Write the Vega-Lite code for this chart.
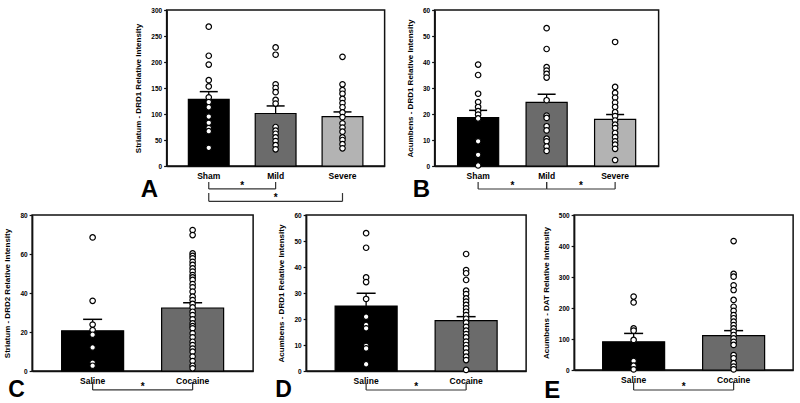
{
  "$schema": "https://vega.github.io/schema/vega-lite/v6.json",
  "background": "white",
  "padding": {"left": 3, "top": 6, "right": 3, "bottom": 0},
  "datasets": {
    "bars": [
      {"p": "A", "g": "Sham", "m": 128, "u": 143},
      {"p": "A", "g": "Mild", "m": 101, "u": 115.5},
      {"p": "A", "g": "Severe", "m": 95, "u": 104},
      {"p": "B", "g": "Sham", "m": 18.6, "u": 21.4},
      {"p": "B", "g": "Mild", "m": 24.5, "u": 27.6},
      {"p": "B", "g": "Severe", "m": 17.9, "u": 19.8},
      {"p": "C", "g": "Saline", "m": 20.6, "u": 26.5},
      {"p": "C", "g": "Cocaine", "m": 32.3, "u": 35},
      {"p": "D", "g": "Saline", "m": 25, "u": 29.9},
      {"p": "D", "g": "Cocaine", "m": 19.4, "u": 20.9},
      {"p": "E", "g": "Saline", "m": 91, "u": 118},
      {"p": "E", "g": "Cocaine", "m": 111, "u": 127}
    ],
    "brk": [
      {"p": "A", "g1": "Sham", "g2": "Mild", "yl": -44, "yt": -31},
      {"p": "A", "g1": "Sham", "g2": "Severe", "mid": "Mild", "yl": -68, "yt": -52},
      {"p": "B", "g1": "Sham", "g2": "Mild", "yl": -8.85, "yt": -6.15},
      {"p": "B", "g1": "Mild", "g2": "Severe", "yl": -8.85, "yt": -6.15},
      {"p": "C", "g1": "Saline", "g2": "Cocaine", "yl": -9.7, "yt": -5.6},
      {"p": "D", "g1": "Saline", "g2": "Cocaine", "yl": -7.3, "yt": -4.6},
      {"p": "E", "g1": "Saline", "g2": "Cocaine", "yl": -64.5, "yt": -39}
    ],
    "pts": [
      {"p": "A", "g": "Sham", "v": 268}, {"p": "A", "g": "Sham", "v": 212}, {"p": "A", "g": "Sham", "v": 195}, {"p": "A", "g": "Sham", "v": 165}, {"p": "A", "g": "Sham", "v": 153}, {"p": "A", "g": "Sham", "v": 132}, {"p": "A", "g": "Sham", "v": 123}, {"p": "A", "g": "Sham", "v": 113}, {"p": "A", "g": "Sham", "v": 95}, {"p": "A", "g": "Sham", "v": 83}, {"p": "A", "g": "Sham", "v": 73}, {"p": "A", "g": "Sham", "v": 67}, {"p": "A", "g": "Sham", "v": 35},
      {"p": "A", "g": "Mild", "v": 228}, {"p": "A", "g": "Mild", "v": 214}, {"p": "A", "g": "Mild", "v": 157}, {"p": "A", "g": "Mild", "v": 150}, {"p": "A", "g": "Mild", "v": 142}, {"p": "A", "g": "Mild", "v": 127}, {"p": "A", "g": "Mild", "v": 120}, {"p": "A", "g": "Mild", "v": 75}, {"p": "A", "g": "Mild", "v": 68}, {"p": "A", "g": "Mild", "v": 62}, {"p": "A", "g": "Mild", "v": 55}, {"p": "A", "g": "Mild", "v": 48}, {"p": "A", "g": "Mild", "v": 40}, {"p": "A", "g": "Mild", "v": 32},
      {"p": "A", "g": "Severe", "v": 210}, {"p": "A", "g": "Severe", "v": 157}, {"p": "A", "g": "Severe", "v": 146}, {"p": "A", "g": "Severe", "v": 139}, {"p": "A", "g": "Severe", "v": 129}, {"p": "A", "g": "Severe", "v": 121}, {"p": "A", "g": "Severe", "v": 113}, {"p": "A", "g": "Severe", "v": 103}, {"p": "A", "g": "Severe", "v": 94}, {"p": "A", "g": "Severe", "v": 82}, {"p": "A", "g": "Severe", "v": 74}, {"p": "A", "g": "Severe", "v": 66}, {"p": "A", "g": "Severe", "v": 55}, {"p": "A", "g": "Severe", "v": 50}, {"p": "A", "g": "Severe", "v": 42}, {"p": "A", "g": "Severe", "v": 34},
      {"p": "B", "g": "Sham", "v": 39}, {"p": "B", "g": "Sham", "v": 35}, {"p": "B", "g": "Sham", "v": 27.8}, {"p": "B", "g": "Sham", "v": 24.6}, {"p": "B", "g": "Sham", "v": 22.7}, {"p": "B", "g": "Sham", "v": 21.1}, {"p": "B", "g": "Sham", "v": 19.8}, {"p": "B", "g": "Sham", "v": 18.3}, {"p": "B", "g": "Sham", "v": 9.5}, {"p": "B", "g": "Sham", "v": 4.3}, {"p": "B", "g": "Sham", "v": 0.2},
      {"p": "B", "g": "Mild", "v": 53}, {"p": "B", "g": "Mild", "v": 45}, {"p": "B", "g": "Mild", "v": 38}, {"p": "B", "g": "Mild", "v": 36.7}, {"p": "B", "g": "Mild", "v": 35.4}, {"p": "B", "g": "Mild", "v": 34}, {"p": "B", "g": "Mild", "v": 25.3}, {"p": "B", "g": "Mild", "v": 19.4}, {"p": "B", "g": "Mild", "v": 18.5}, {"p": "B", "g": "Mild", "v": 15.3}, {"p": "B", "g": "Mild", "v": 13.7}, {"p": "B", "g": "Mild", "v": 10.5}, {"p": "B", "g": "Mild", "v": 9.5}, {"p": "B", "g": "Mild", "v": 7.5}, {"p": "B", "g": "Mild", "v": 5.8},
      {"p": "B", "g": "Severe", "v": 47.7}, {"p": "B", "g": "Severe", "v": 30.4}, {"p": "B", "g": "Severe", "v": 28.1}, {"p": "B", "g": "Severe", "v": 26.3}, {"p": "B", "g": "Severe", "v": 24.4}, {"p": "B", "g": "Severe", "v": 22.7}, {"p": "B", "g": "Severe", "v": 20.7}, {"p": "B", "g": "Severe", "v": 19.2}, {"p": "B", "g": "Severe", "v": 17.5}, {"p": "B", "g": "Severe", "v": 15.9}, {"p": "B", "g": "Severe", "v": 14.6}, {"p": "B", "g": "Severe", "v": 12.7}, {"p": "B", "g": "Severe", "v": 11.1}, {"p": "B", "g": "Severe", "v": 9.5}, {"p": "B", "g": "Severe", "v": 8.2}, {"p": "B", "g": "Severe", "v": 6.6}, {"p": "B", "g": "Severe", "v": 2.3},
      {"p": "C", "g": "Saline", "v": 68.5}, {"p": "C", "g": "Saline", "v": 36}, {"p": "C", "g": "Saline", "v": 23.8}, {"p": "C", "g": "Saline", "v": 21}, {"p": "C", "g": "Saline", "v": 18.6}, {"p": "C", "g": "Saline", "v": 12.1}, {"p": "C", "g": "Saline", "v": 4.3}, {"p": "C", "g": "Saline", "v": 2.7},
      {"p": "C", "g": "Cocaine", "v": 72.3}, {"p": "C", "g": "Cocaine", "v": 69.7}, {"p": "C", "g": "Cocaine", "v": 60.3}, {"p": "C", "g": "Cocaine", "v": 59}, {"p": "C", "g": "Cocaine", "v": 57.8}, {"p": "C", "g": "Cocaine", "v": 56}, {"p": "C", "g": "Cocaine", "v": 54.4}, {"p": "C", "g": "Cocaine", "v": 52.6}, {"p": "C", "g": "Cocaine", "v": 51}, {"p": "C", "g": "Cocaine", "v": 49.2}, {"p": "C", "g": "Cocaine", "v": 48}, {"p": "C", "g": "Cocaine", "v": 46.7}, {"p": "C", "g": "Cocaine", "v": 44.6}, {"p": "C", "g": "Cocaine", "v": 42.9}, {"p": "C", "g": "Cocaine", "v": 40.7}, {"p": "C", "g": "Cocaine", "v": 38.1}, {"p": "C", "g": "Cocaine", "v": 36.4}, {"p": "C", "g": "Cocaine", "v": 34.4}, {"p": "C", "g": "Cocaine", "v": 32.6}, {"p": "C", "g": "Cocaine", "v": 30.4}, {"p": "C", "g": "Cocaine", "v": 28.7}, {"p": "C", "g": "Cocaine", "v": 26.5}, {"p": "C", "g": "Cocaine", "v": 24.4}, {"p": "C", "g": "Cocaine", "v": 23}, {"p": "C", "g": "Cocaine", "v": 21.9}, {"p": "C", "g": "Cocaine", "v": 19.3}, {"p": "C", "g": "Cocaine", "v": 17.3}, {"p": "C", "g": "Cocaine", "v": 15}, {"p": "C", "g": "Cocaine", "v": 13.3}, {"p": "C", "g": "Cocaine", "v": 11.5}, {"p": "C", "g": "Cocaine", "v": 9.9}, {"p": "C", "g": "Cocaine", "v": 7.4}, {"p": "C", "g": "Cocaine", "v": 5.1}, {"p": "C", "g": "Cocaine", "v": 2.7}, {"p": "C", "g": "Cocaine", "v": 1.4},
      {"p": "D", "g": "Saline", "v": 53}, {"p": "D", "g": "Saline", "v": 47.4}, {"p": "D", "g": "Saline", "v": 36}, {"p": "D", "g": "Saline", "v": 34.2}, {"p": "D", "g": "Saline", "v": 27.7}, {"p": "D", "g": "Saline", "v": 20.9}, {"p": "D", "g": "Saline", "v": 17.7}, {"p": "D", "g": "Saline", "v": 16.4}, {"p": "D", "g": "Saline", "v": 9.7}, {"p": "D", "g": "Saline", "v": 8.7}, {"p": "D", "g": "Saline", "v": 2.6},
      {"p": "D", "g": "Cocaine", "v": 45}, {"p": "D", "g": "Cocaine", "v": 38.8}, {"p": "D", "g": "Cocaine", "v": 37.6}, {"p": "D", "g": "Cocaine", "v": 35}, {"p": "D", "g": "Cocaine", "v": 30.9}, {"p": "D", "g": "Cocaine", "v": 29.6}, {"p": "D", "g": "Cocaine", "v": 27.9}, {"p": "D", "g": "Cocaine", "v": 26.7}, {"p": "D", "g": "Cocaine", "v": 25.4}, {"p": "D", "g": "Cocaine", "v": 24.1}, {"p": "D", "g": "Cocaine", "v": 22.8}, {"p": "D", "g": "Cocaine", "v": 21.5}, {"p": "D", "g": "Cocaine", "v": 20.1}, {"p": "D", "g": "Cocaine", "v": 18.6}, {"p": "D", "g": "Cocaine", "v": 17}, {"p": "D", "g": "Cocaine", "v": 15.5}, {"p": "D", "g": "Cocaine", "v": 14.2}, {"p": "D", "g": "Cocaine", "v": 12.9}, {"p": "D", "g": "Cocaine", "v": 11.3}, {"p": "D", "g": "Cocaine", "v": 10}, {"p": "D", "g": "Cocaine", "v": 8.7}, {"p": "D", "g": "Cocaine", "v": 7.1}, {"p": "D", "g": "Cocaine", "v": 5.5}, {"p": "D", "g": "Cocaine", "v": 4.2}, {"p": "D", "g": "Cocaine", "v": 0.4},
      {"p": "E", "g": "Saline", "v": 237}, {"p": "E", "g": "Saline", "v": 218}, {"p": "E", "g": "Saline", "v": 134}, {"p": "E", "g": "Saline", "v": 127}, {"p": "E", "g": "Saline", "v": 97}, {"p": "E", "g": "Saline", "v": 29}, {"p": "E", "g": "Saline", "v": 14}, {"p": "E", "g": "Saline", "v": 2},
      {"p": "E", "g": "Cocaine", "v": 416}, {"p": "E", "g": "Cocaine", "v": 310}, {"p": "E", "g": "Cocaine", "v": 301}, {"p": "E", "g": "Cocaine", "v": 273}, {"p": "E", "g": "Cocaine", "v": 258}, {"p": "E", "g": "Cocaine", "v": 226}, {"p": "E", "g": "Cocaine", "v": 204}, {"p": "E", "g": "Cocaine", "v": 191}, {"p": "E", "g": "Cocaine", "v": 177}, {"p": "E", "g": "Cocaine", "v": 167}, {"p": "E", "g": "Cocaine", "v": 156}, {"p": "E", "g": "Cocaine", "v": 145}, {"p": "E", "g": "Cocaine", "v": 134}, {"p": "E", "g": "Cocaine", "v": 124}, {"p": "E", "g": "Cocaine", "v": 113}, {"p": "E", "g": "Cocaine", "v": 102}, {"p": "E", "g": "Cocaine", "v": 91}, {"p": "E", "g": "Cocaine", "v": 81}, {"p": "E", "g": "Cocaine", "v": 48}, {"p": "E", "g": "Cocaine", "v": 38}, {"p": "E", "g": "Cocaine", "v": 22}, {"p": "E", "g": "Cocaine", "v": 11}, {"p": "E", "g": "Cocaine", "v": 2}
    ]
  },
  "vconcat": [
    {
      "hconcat": [
        {
          "width": 218, "height": 156,
          "title": {"text": "A", "dx": -26, "dy": -27},
          "layer": [
            {"data": {"name": "bars"}, "transform": [{"filter": "datum.p === 'A'"}],
             "mark": {"type": "bar", "width": {"band": 0.61}, "stroke": "#000", "strokeWidth": 1.2},
             "encoding": {
               "x": {"field": "g", "type": "nominal", "sort": null, "scale": {"domain": ["Sham", "Mild", "Severe"], "paddingInner": 0, "paddingOuter": 0.13}, "axis": {"title": null}},
               "y": {"field": "m", "type": "quantitative", "scale": {"domain": [0, 300], "nice": false}, "axis": {"values": [0, 50, 100, 150, 200, 250, 300], "tickCount": 7, "labelOverlap": false, "title": "Striatum - DRD1 Relative Intensity"}},
               "color": {"field": "g", "type": "nominal", "scale": {"domain": ["Sham", "Mild", "Severe", "Saline", "Cocaine"], "range": ["#000000", "#6b6b6b", "#b3b3b3", "#000000", "#6b6b6b"]}, "legend": null}
             }},
            {"data": {"name": "bars"}, "transform": [{"filter": "datum.p === 'A'"}],
             "mark": {"type": "rule", "color": "#000", "strokeWidth": 1.3},
             "encoding": {"x": {"field": "g", "type": "nominal", "axis": {"title": null}}, "y": {"field": "m", "type": "quantitative", "scale": {"domain": [0, 300], "nice": false}, "axis": {"values": [0, 50, 100, 150, 200, 250, 300], "tickCount": 7, "labelOverlap": false, "title": "Striatum - DRD1 Relative Intensity"}}, "y2": {"field": "u"}}},
            {"data": {"name": "bars"}, "transform": [{"filter": "datum.p === 'A'"}],
             "mark": {"type": "tick", "size": 18, "thickness": 1.5, "color": "#000", "opacity": 1},
             "encoding": {"x": {"field": "g", "type": "nominal", "axis": {"title": null}}, "y": {"field": "u", "type": "quantitative", "scale": {"domain": [0, 300], "nice": false}, "axis": {"values": [0, 50, 100, 150, 200, 250, 300], "tickCount": 7, "labelOverlap": false, "title": "Striatum - DRD1 Relative Intensity"}}}},
            {"data": {"name": "pts"}, "transform": [{"filter": "datum.p === 'A'"}],
             "mark": {"type": "circle", "size": 30, "fill": "#ffffff", "stroke": "#000", "strokeWidth": 1.2, "opacity": 1},
             "encoding": {"x": {"field": "g", "type": "nominal", "axis": {"title": null}}, "y": {"field": "v", "type": "quantitative", "scale": {"domain": [0, 300], "nice": false}, "axis": {"values": [0, 50, 100, 150, 200, 250, 300], "tickCount": 7, "labelOverlap": false, "title": "Striatum - DRD1 Relative Intensity"}}}},
            {"data": {"name": "brk"}, "transform": [{"filter": "datum.p === 'A'"}],
             "mark": {"type": "rule", "color": "#333", "strokeWidth": 1.2},
             "encoding": {"x": {"field": "g1", "type": "nominal", "bandPosition": 0.5, "axis": {"title": null}}, "x2": {"field": "g2"}, "y": {"field": "yl", "type": "quantitative", "scale": {"domain": [0, 300], "nice": false}, "axis": {"values": [0, 50, 100, 150, 200, 250, 300], "tickCount": 7, "labelOverlap": false, "title": "Striatum - DRD1 Relative Intensity"}}}},
            {"data": {"name": "brk"}, "transform": [{"filter": "datum.p === 'A'"}],
             "mark": {"type": "rule", "color": "#333", "strokeWidth": 1.2},
             "encoding": {"x": {"field": "g1", "type": "nominal", "axis": {"title": null}}, "y": {"field": "yl", "type": "quantitative", "scale": {"domain": [0, 300], "nice": false}, "axis": {"values": [0, 50, 100, 150, 200, 250, 300], "tickCount": 7, "labelOverlap": false, "title": "Striatum - DRD1 Relative Intensity"}}, "y2": {"field": "yt"}}},
            {"data": {"name": "brk"}, "transform": [{"filter": "datum.p === 'A'"}],
             "mark": {"type": "rule", "color": "#333", "strokeWidth": 1.2},
             "encoding": {"x": {"field": "g2", "type": "nominal", "axis": {"title": null}}, "y": {"field": "yl", "type": "quantitative", "scale": {"domain": [0, 300], "nice": false}, "axis": {"values": [0, 50, 100, 150, 200, 250, 300], "tickCount": 7, "labelOverlap": false, "title": "Striatum - DRD1 Relative Intensity"}}, "y2": {"field": "yt"}}},
            {"data": {"name": "brk"}, "transform": [{"filter": "datum.p === 'A' && !datum.mid"}],
             "mark": {"type": "text", "text": "*", "fontSize": 10, "fontWeight": "bold", "baseline": "alphabetic", "color": "#000"},
             "encoding": {"x": {"field": "g2", "type": "nominal", "bandPosition": 0, "axis": {"title": null}}, "y": {"field": "yl", "type": "quantitative", "scale": {"domain": [0, 300], "nice": false}, "axis": {"values": [0, 50, 100, 150, 200, 250, 300], "tickCount": 7, "labelOverlap": false, "title": "Striatum - DRD1 Relative Intensity"}}}},
            {"data": {"name": "brk"}, "transform": [{"filter": "datum.p === 'A' && datum.mid"}],
             "mark": {"type": "text", "text": "*", "fontSize": 10, "fontWeight": "bold", "baseline": "alphabetic", "color": "#000"},
             "encoding": {"x": {"field": "mid", "type": "nominal", "bandPosition": 0.5, "axis": {"title": null}}, "y": {"field": "yl", "type": "quantitative", "scale": {"domain": [0, 300], "nice": false}, "axis": {"values": [0, 50, 100, 150, 200, 250, 300], "tickCount": 7, "labelOverlap": false, "title": "Striatum - DRD1 Relative Intensity"}}}}
          ]
        },
        {
          "width": 224, "height": 156,
          "title": {"text": "B", "dx": -22, "dy": -15},
          "layer": [
            {"data": {"name": "bars"}, "transform": [{"filter": "datum.p === 'B'"}],
             "mark": {"type": "bar", "width": {"band": 0.6}, "stroke": "#000", "strokeWidth": 1.2},
             "encoding": {
               "x": {"field": "g", "type": "nominal", "sort": null, "scale": {"domain": ["Sham", "Mild", "Severe"], "paddingInner": 0, "paddingOuter": 0.135}, "axis": {"title": null}},
               "y": {"field": "m", "type": "quantitative", "scale": {"domain": [0, 60], "nice": false}, "axis": {"values": [0, 10, 20, 30, 40, 50, 60], "tickCount": 7, "labelOverlap": false, "title": "Acumbens - DRD1 Relative Intensity"}},
               "color": {"field": "g", "type": "nominal", "scale": {"domain": ["Sham", "Mild", "Severe", "Saline", "Cocaine"], "range": ["#000000", "#6b6b6b", "#b3b3b3", "#000000", "#6b6b6b"]}, "legend": null}
             }},
            {"data": {"name": "bars"}, "transform": [{"filter": "datum.p === 'B'"}],
             "mark": {"type": "rule", "color": "#000", "strokeWidth": 1.3},
             "encoding": {"x": {"field": "g", "type": "nominal", "axis": {"title": null}}, "y": {"field": "m", "type": "quantitative", "scale": {"domain": [0, 60], "nice": false}, "axis": {"values": [0, 10, 20, 30, 40, 50, 60], "tickCount": 7, "labelOverlap": false, "title": "Acumbens - DRD1 Relative Intensity"}}, "y2": {"field": "u"}}},
            {"data": {"name": "bars"}, "transform": [{"filter": "datum.p === 'B'"}],
             "mark": {"type": "tick", "size": 18, "thickness": 1.5, "color": "#000", "opacity": 1},
             "encoding": {"x": {"field": "g", "type": "nominal", "axis": {"title": null}}, "y": {"field": "u", "type": "quantitative", "scale": {"domain": [0, 60], "nice": false}, "axis": {"values": [0, 10, 20, 30, 40, 50, 60], "tickCount": 7, "labelOverlap": false, "title": "Acumbens - DRD1 Relative Intensity"}}}},
            {"data": {"name": "pts"}, "transform": [{"filter": "datum.p === 'B'"}],
             "mark": {"type": "circle", "size": 30, "fill": "#ffffff", "stroke": "#000", "strokeWidth": 1.2, "opacity": 1},
             "encoding": {"x": {"field": "g", "type": "nominal", "axis": {"title": null}}, "y": {"field": "v", "type": "quantitative", "scale": {"domain": [0, 60], "nice": false}, "axis": {"values": [0, 10, 20, 30, 40, 50, 60], "tickCount": 7, "labelOverlap": false, "title": "Acumbens - DRD1 Relative Intensity"}}}},
            {"data": {"name": "brk"}, "transform": [{"filter": "datum.p === 'B'"}],
             "mark": {"type": "rule", "color": "#333", "strokeWidth": 1.2},
             "encoding": {"x": {"field": "g1", "type": "nominal", "bandPosition": 0.5, "axis": {"title": null}}, "x2": {"field": "g2"}, "y": {"field": "yl", "type": "quantitative", "scale": {"domain": [0, 60], "nice": false}, "axis": {"values": [0, 10, 20, 30, 40, 50, 60], "tickCount": 7, "labelOverlap": false, "title": "Acumbens - DRD1 Relative Intensity"}}}},
            {"data": {"name": "brk"}, "transform": [{"filter": "datum.p === 'B'"}],
             "mark": {"type": "rule", "color": "#333", "strokeWidth": 1.2},
             "encoding": {"x": {"field": "g1", "type": "nominal", "axis": {"title": null}}, "y": {"field": "yl", "type": "quantitative", "scale": {"domain": [0, 60], "nice": false}, "axis": {"values": [0, 10, 20, 30, 40, 50, 60], "tickCount": 7, "labelOverlap": false, "title": "Acumbens - DRD1 Relative Intensity"}}, "y2": {"field": "yt"}}},
            {"data": {"name": "brk"}, "transform": [{"filter": "datum.p === 'B'"}],
             "mark": {"type": "rule", "color": "#333", "strokeWidth": 1.2},
             "encoding": {"x": {"field": "g2", "type": "nominal", "axis": {"title": null}}, "y": {"field": "yl", "type": "quantitative", "scale": {"domain": [0, 60], "nice": false}, "axis": {"values": [0, 10, 20, 30, 40, 50, 60], "tickCount": 7, "labelOverlap": false, "title": "Acumbens - DRD1 Relative Intensity"}}, "y2": {"field": "yt"}}},
            {"data": {"name": "brk"}, "transform": [{"filter": "datum.p === 'B'"}],
             "mark": {"type": "text", "text": "*", "fontSize": 10, "fontWeight": "bold", "baseline": "alphabetic", "color": "#000"},
             "encoding": {"x": {"field": "g2", "type": "nominal", "bandPosition": 0, "axis": {"title": null}}, "y": {"field": "yl", "type": "quantitative", "scale": {"domain": [0, 60], "nice": false}, "axis": {"values": [0, 10, 20, 30, 40, 50, 60], "tickCount": 7, "labelOverlap": false, "title": "Acumbens - DRD1 Relative Intensity"}}}}
          ]
        }
      ],
      "spacing": 20
    },
    {
      "hconcat": [
        {
          "width": 221, "height": 156,
          "title": {"text": "C", "dx": -24, "dy": -15, "fontSize": 23},
          "layer": [
            {"data": {"name": "bars"}, "transform": [{"filter": "datum.p === 'C'"}],
             "mark": {"type": "bar", "width": {"band": 0.62}, "stroke": "#000", "strokeWidth": 1.2},
             "encoding": {
               "x": {"field": "g", "type": "nominal", "sort": null, "scale": {"domain": ["Saline", "Cocaine"], "paddingInner": 0, "paddingOuter": 0.105}, "axis": {"title": null}},
               "y": {"field": "m", "type": "quantitative", "scale": {"domain": [0, 80], "nice": false}, "axis": {"values": [0, 20, 40, 60, 80], "tickCount": 5, "labelOverlap": false, "title": "Striatum - DRD2 Relative Intensity"}},
               "color": {"field": "g", "type": "nominal", "scale": {"domain": ["Sham", "Mild", "Severe", "Saline", "Cocaine"], "range": ["#000000", "#6b6b6b", "#b3b3b3", "#000000", "#6b6b6b"]}, "legend": null}
             }},
            {"data": {"name": "bars"}, "transform": [{"filter": "datum.p === 'C'"}],
             "mark": {"type": "rule", "color": "#000", "strokeWidth": 1.3},
             "encoding": {"x": {"field": "g", "type": "nominal", "axis": {"title": null}}, "y": {"field": "m", "type": "quantitative", "scale": {"domain": [0, 80], "nice": false}, "axis": {"values": [0, 20, 40, 60, 80], "tickCount": 5, "labelOverlap": false, "title": "Striatum - DRD2 Relative Intensity"}}, "y2": {"field": "u"}}},
            {"data": {"name": "bars"}, "transform": [{"filter": "datum.p === 'C'"}],
             "mark": {"type": "tick", "size": 19, "thickness": 1.5, "color": "#000", "opacity": 1},
             "encoding": {"x": {"field": "g", "type": "nominal", "axis": {"title": null}}, "y": {"field": "u", "type": "quantitative", "scale": {"domain": [0, 80], "nice": false}, "axis": {"values": [0, 20, 40, 60, 80], "tickCount": 5, "labelOverlap": false, "title": "Striatum - DRD2 Relative Intensity"}}}},
            {"data": {"name": "pts"}, "transform": [{"filter": "datum.p === 'C'"}],
             "mark": {"type": "circle", "size": 30, "fill": "#ffffff", "stroke": "#000", "strokeWidth": 1.2, "opacity": 1},
             "encoding": {"x": {"field": "g", "type": "nominal", "axis": {"title": null}}, "y": {"field": "v", "type": "quantitative", "scale": {"domain": [0, 80], "nice": false}, "axis": {"values": [0, 20, 40, 60, 80], "tickCount": 5, "labelOverlap": false, "title": "Striatum - DRD2 Relative Intensity"}}}},
            {"data": {"name": "brk"}, "transform": [{"filter": "datum.p === 'C'"}],
             "mark": {"type": "rule", "color": "#333", "strokeWidth": 1.2},
             "encoding": {"x": {"field": "g1", "type": "nominal", "bandPosition": 0.5, "axis": {"title": null}}, "x2": {"field": "g2"}, "y": {"field": "yl", "type": "quantitative", "scale": {"domain": [0, 80], "nice": false}, "axis": {"values": [0, 20, 40, 60, 80], "tickCount": 5, "labelOverlap": false, "title": "Striatum - DRD2 Relative Intensity"}}}},
            {"data": {"name": "brk"}, "transform": [{"filter": "datum.p === 'C'"}],
             "mark": {"type": "rule", "color": "#333", "strokeWidth": 1.2},
             "encoding": {"x": {"field": "g1", "type": "nominal", "axis": {"title": null}}, "y": {"field": "yl", "type": "quantitative", "scale": {"domain": [0, 80], "nice": false}, "axis": {"values": [0, 20, 40, 60, 80], "tickCount": 5, "labelOverlap": false, "title": "Striatum - DRD2 Relative Intensity"}}, "y2": {"field": "yt"}}},
            {"data": {"name": "brk"}, "transform": [{"filter": "datum.p === 'C'"}],
             "mark": {"type": "rule", "color": "#333", "strokeWidth": 1.2},
             "encoding": {"x": {"field": "g2", "type": "nominal", "axis": {"title": null}}, "y": {"field": "yl", "type": "quantitative", "scale": {"domain": [0, 80], "nice": false}, "axis": {"values": [0, 20, 40, 60, 80], "tickCount": 5, "labelOverlap": false, "title": "Striatum - DRD2 Relative Intensity"}}, "y2": {"field": "yt"}}},
            {"data": {"name": "brk"}, "transform": [{"filter": "datum.p === 'C'"}],
             "mark": {"type": "text", "text": "*", "fontSize": 10, "fontWeight": "bold", "baseline": "alphabetic", "color": "#000"},
             "encoding": {"x": {"field": "g2", "type": "nominal", "bandPosition": 0, "axis": {"title": null}}, "y": {"field": "yl", "type": "quantitative", "scale": {"domain": [0, 80], "nice": false}, "axis": {"values": [0, 20, 40, 60, 80], "tickCount": 5, "labelOverlap": false, "title": "Striatum - DRD2 Relative Intensity"}}}}
          ]
        },
        {
          "hconcat": [
            {
              "width": 220, "height": 156,
              "title": {"text": "D", "dx": -31, "dy": -15, "fontSize": 23},
              "layer": [
                {"data": {"name": "bars"}, "transform": [{"filter": "datum.p === 'D'"}],
                 "mark": {"type": "bar", "width": {"band": 0.62}, "stroke": "#000", "strokeWidth": 1.2},
                 "encoding": {
                   "x": {"field": "g", "type": "nominal", "sort": null, "scale": {"domain": ["Saline", "Cocaine"], "paddingInner": 0, "paddingOuter": 0.1}, "axis": {"title": null}},
                   "y": {"field": "m", "type": "quantitative", "scale": {"domain": [0, 60], "nice": false}, "axis": {"values": [0, 10, 20, 30, 40, 50, 60], "tickCount": 7, "labelOverlap": false, "title": "Acumbens - DRD1 Relative Intensity"}},
                   "color": {"field": "g", "type": "nominal", "scale": {"domain": ["Sham", "Mild", "Severe", "Saline", "Cocaine"], "range": ["#000000", "#6b6b6b", "#b3b3b3", "#000000", "#6b6b6b"]}, "legend": null}
                 }},
                {"data": {"name": "bars"}, "transform": [{"filter": "datum.p === 'D'"}],
                 "mark": {"type": "rule", "color": "#000", "strokeWidth": 1.3},
                 "encoding": {"x": {"field": "g", "type": "nominal", "axis": {"title": null}}, "y": {"field": "m", "type": "quantitative", "scale": {"domain": [0, 60], "nice": false}, "axis": {"values": [0, 10, 20, 30, 40, 50, 60], "tickCount": 7, "labelOverlap": false, "title": "Acumbens - DRD1 Relative Intensity"}}, "y2": {"field": "u"}}},
                {"data": {"name": "bars"}, "transform": [{"filter": "datum.p === 'D'"}],
                 "mark": {"type": "tick", "size": 19, "thickness": 1.5, "color": "#000", "opacity": 1},
                 "encoding": {"x": {"field": "g", "type": "nominal", "axis": {"title": null}}, "y": {"field": "u", "type": "quantitative", "scale": {"domain": [0, 60], "nice": false}, "axis": {"values": [0, 10, 20, 30, 40, 50, 60], "tickCount": 7, "labelOverlap": false, "title": "Acumbens - DRD1 Relative Intensity"}}}},
                {"data": {"name": "pts"}, "transform": [{"filter": "datum.p === 'D'"}],
                 "mark": {"type": "circle", "size": 30, "fill": "#ffffff", "stroke": "#000", "strokeWidth": 1.2, "opacity": 1},
                 "encoding": {"x": {"field": "g", "type": "nominal", "axis": {"title": null}}, "y": {"field": "v", "type": "quantitative", "scale": {"domain": [0, 60], "nice": false}, "axis": {"values": [0, 10, 20, 30, 40, 50, 60], "tickCount": 7, "labelOverlap": false, "title": "Acumbens - DRD1 Relative Intensity"}}}},
                {"data": {"name": "brk"}, "transform": [{"filter": "datum.p === 'D'"}],
                 "mark": {"type": "rule", "color": "#333", "strokeWidth": 1.2},
                 "encoding": {"x": {"field": "g1", "type": "nominal", "bandPosition": 0.5, "axis": {"title": null}}, "x2": {"field": "g2"}, "y": {"field": "yl", "type": "quantitative", "scale": {"domain": [0, 60], "nice": false}, "axis": {"values": [0, 10, 20, 30, 40, 50, 60], "tickCount": 7, "labelOverlap": false, "title": "Acumbens - DRD1 Relative Intensity"}}}},
                {"data": {"name": "brk"}, "transform": [{"filter": "datum.p === 'D'"}],
                 "mark": {"type": "rule", "color": "#333", "strokeWidth": 1.2},
                 "encoding": {"x": {"field": "g1", "type": "nominal", "axis": {"title": null}}, "y": {"field": "yl", "type": "quantitative", "scale": {"domain": [0, 60], "nice": false}, "axis": {"values": [0, 10, 20, 30, 40, 50, 60], "tickCount": 7, "labelOverlap": false, "title": "Acumbens - DRD1 Relative Intensity"}}, "y2": {"field": "yt"}}},
                {"data": {"name": "brk"}, "transform": [{"filter": "datum.p === 'D'"}],
                 "mark": {"type": "rule", "color": "#333", "strokeWidth": 1.2},
                 "encoding": {"x": {"field": "g2", "type": "nominal", "axis": {"title": null}}, "y": {"field": "yl", "type": "quantitative", "scale": {"domain": [0, 60], "nice": false}, "axis": {"values": [0, 10, 20, 30, 40, 50, 60], "tickCount": 7, "labelOverlap": false, "title": "Acumbens - DRD1 Relative Intensity"}}, "y2": {"field": "yt"}}},
                {"data": {"name": "brk"}, "transform": [{"filter": "datum.p === 'D'"}],
                 "mark": {"type": "text", "text": "*", "fontSize": 10, "fontWeight": "bold", "baseline": "alphabetic", "color": "#000"},
                 "encoding": {"x": {"field": "g2", "type": "nominal", "bandPosition": 0, "axis": {"title": null}}, "y": {"field": "yl", "type": "quantitative", "scale": {"domain": [0, 60], "nice": false}, "axis": {"values": [0, 10, 20, 30, 40, 50, 60], "tickCount": 7, "labelOverlap": false, "title": "Acumbens - DRD1 Relative Intensity"}}}}
              ]
            },
            {
              "width": 219, "height": 155,
              "title": {"text": "E", "dx": -30, "dy": -15},
              "layer": [
                {"data": {"name": "bars"}, "transform": [{"filter": "datum.p === 'E'"}],
                 "mark": {"type": "bar", "width": {"band": 0.62}, "stroke": "#000", "strokeWidth": 1.2},
                 "encoding": {
                   "x": {"field": "g", "type": "nominal", "sort": null, "scale": {"domain": ["Saline", "Cocaine"], "paddingInner": 0, "paddingOuter": 0.095}, "axis": {"title": null}},
                   "y": {"field": "m", "type": "quantitative", "scale": {"domain": [0, 500], "nice": false}, "axis": {"values": [0, 100, 200, 300, 400, 500], "tickCount": 6, "labelOverlap": false, "title": "Acumbens - DAT Relative Intensity"}},
                   "color": {"field": "g", "type": "nominal", "scale": {"domain": ["Sham", "Mild", "Severe", "Saline", "Cocaine"], "range": ["#000000", "#6b6b6b", "#b3b3b3", "#000000", "#6b6b6b"]}, "legend": null}
                 }},
                {"data": {"name": "bars"}, "transform": [{"filter": "datum.p === 'E'"}],
                 "mark": {"type": "rule", "color": "#000", "strokeWidth": 1.3},
                 "encoding": {"x": {"field": "g", "type": "nominal", "axis": {"title": null}}, "y": {"field": "m", "type": "quantitative", "scale": {"domain": [0, 500], "nice": false}, "axis": {"values": [0, 100, 200, 300, 400, 500], "tickCount": 6, "labelOverlap": false, "title": "Acumbens - DAT Relative Intensity"}}, "y2": {"field": "u"}}},
                {"data": {"name": "bars"}, "transform": [{"filter": "datum.p === 'E'"}],
                 "mark": {"type": "tick", "size": 19, "thickness": 1.5, "color": "#000", "opacity": 1},
                 "encoding": {"x": {"field": "g", "type": "nominal", "axis": {"title": null}}, "y": {"field": "u", "type": "quantitative", "scale": {"domain": [0, 500], "nice": false}, "axis": {"values": [0, 100, 200, 300, 400, 500], "tickCount": 6, "labelOverlap": false, "title": "Acumbens - DAT Relative Intensity"}}}},
                {"data": {"name": "pts"}, "transform": [{"filter": "datum.p === 'E'"}],
                 "mark": {"type": "circle", "size": 30, "fill": "#ffffff", "stroke": "#000", "strokeWidth": 1.2, "opacity": 1},
                 "encoding": {"x": {"field": "g", "type": "nominal", "axis": {"title": null}}, "y": {"field": "v", "type": "quantitative", "scale": {"domain": [0, 500], "nice": false}, "axis": {"values": [0, 100, 200, 300, 400, 500], "tickCount": 6, "labelOverlap": false, "title": "Acumbens - DAT Relative Intensity"}}}},
                {"data": {"name": "brk"}, "transform": [{"filter": "datum.p === 'E'"}],
                 "mark": {"type": "rule", "color": "#333", "strokeWidth": 1.2},
                 "encoding": {"x": {"field": "g1", "type": "nominal", "bandPosition": 0.5, "axis": {"title": null}}, "x2": {"field": "g2"}, "y": {"field": "yl", "type": "quantitative", "scale": {"domain": [0, 500], "nice": false}, "axis": {"values": [0, 100, 200, 300, 400, 500], "tickCount": 6, "labelOverlap": false, "title": "Acumbens - DAT Relative Intensity"}}}},
                {"data": {"name": "brk"}, "transform": [{"filter": "datum.p === 'E'"}],
                 "mark": {"type": "rule", "color": "#333", "strokeWidth": 1.2},
                 "encoding": {"x": {"field": "g1", "type": "nominal", "axis": {"title": null}}, "y": {"field": "yl", "type": "quantitative", "scale": {"domain": [0, 500], "nice": false}, "axis": {"values": [0, 100, 200, 300, 400, 500], "tickCount": 6, "labelOverlap": false, "title": "Acumbens - DAT Relative Intensity"}}, "y2": {"field": "yt"}}},
                {"data": {"name": "brk"}, "transform": [{"filter": "datum.p === 'E'"}],
                 "mark": {"type": "rule", "color": "#333", "strokeWidth": 1.2},
                 "encoding": {"x": {"field": "g2", "type": "nominal", "axis": {"title": null}}, "y": {"field": "yl", "type": "quantitative", "scale": {"domain": [0, 500], "nice": false}, "axis": {"values": [0, 100, 200, 300, 400, 500], "tickCount": 6, "labelOverlap": false, "title": "Acumbens - DAT Relative Intensity"}}, "y2": {"field": "yt"}}},
                {"data": {"name": "brk"}, "transform": [{"filter": "datum.p === 'E'"}],
                 "mark": {"type": "text", "text": "*", "fontSize": 10, "fontWeight": "bold", "baseline": "alphabetic", "color": "#000"},
                 "encoding": {"x": {"field": "g2", "type": "nominal", "bandPosition": 0, "axis": {"title": null}}, "y": {"field": "yl", "type": "quantitative", "scale": {"domain": [0, 500], "nice": false}, "axis": {"values": [0, 100, 200, 300, 400, 500], "tickCount": 6, "labelOverlap": false, "title": "Acumbens - DAT Relative Intensity"}}}}
              ]
            }
          ],
          "spacing": 14
        }
      ],
      "spacing": 20
    }
  ],
  "spacing": 6,
  "center": true,
  "config": {
    "font": "Liberation Sans",
    "view": {"stroke": "#111", "strokeWidth": 1.5},
    "axis": {"grid": false, "domainColor": "#111", "domainWidth": 1.5, "tickColor": "#111", "tickWidth": 1.2, "labelFont": "Liberation Sans", "labelFontWeight": "bold", "labelColor": "#000", "titleFont": "Liberation Sans", "titleFontWeight": "bold", "titleColor": "#000"},
    "axisX": {"ticks": false, "labelFontSize": 8.5, "labelPadding": 5, "labelAngle": 0},
    "axisY": {"tickSize": 3, "labelFontSize": 6.5, "labelPadding": 2, "titleFontSize": 8, "titlePadding": 8, "labelOverlap": false},
    "title": {"orient": "bottom", "anchor": "start", "frame": "group", "fontSize": 24, "font": "Liberation Sans", "fontWeight": "bold", "offset": 2, "color": "#000"}
  }
}
